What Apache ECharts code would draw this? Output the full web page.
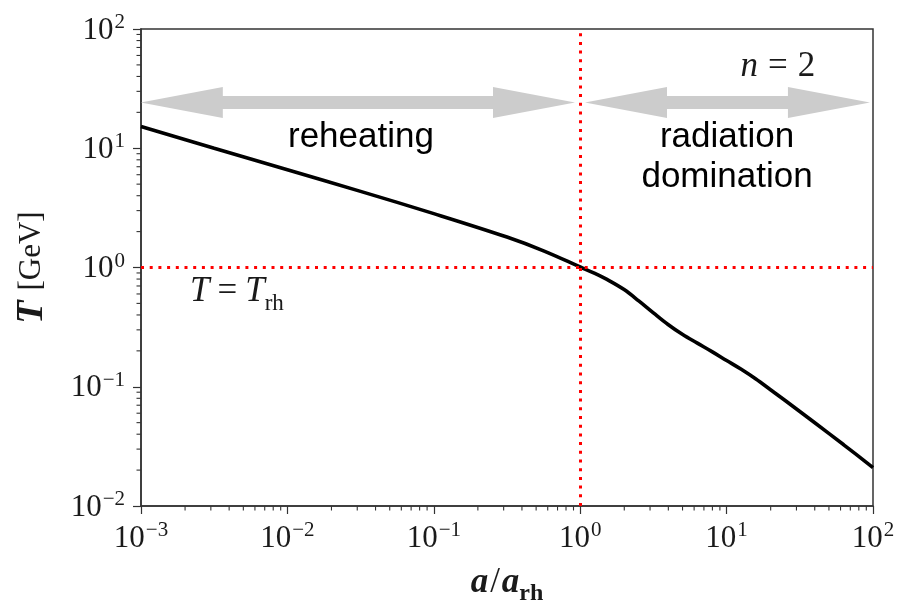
<!DOCTYPE html>
<html>
<head>
<meta charset="utf-8">
<script src="https://cdn.jsdelivr.net/npm/echarts/dist/echarts.min.js"></script>
<style>html,body{margin:0;padding:0;background:#fff;}#chart{width:901px;height:602px;}</style>
</head>
<body>
<div id="chart"></div>
<script>
// ---- data ----
const aRatio = [0.001, 0.00316, 0.01, 0.0316, 0.1, 0.316, 0.562, 1.0, 1.259, 1.585, 1.995, 2.512, 3.162, 3.981, 5.012, 6.31, 7.943, 10.0, 12.59, 15.85, 19.95, 25.12, 39.81, 63.1, 100.0];
const temperature = [15.2, 10.0, 6.61, 4.35, 2.83, 1.80, 1.38, 1.01, 0.891, 0.773, 0.653, 0.525, 0.417, 0.333, 0.274, 0.232, 0.197, 0.166, 0.140, 0.116, 0.0944, 0.0767, 0.0501, 0.0326, 0.0210];
const xDecades = [-3, -2, -1, 0, 1, 2];
const yDecades = [-2, -1, 0, 1, 2];
const aReheat = 1;
const tReheat = 1;

// minor tick positions (2..9 per decade)
const xMinor = [];
xDecades.slice(0, -1).forEach(e => { for (let m = 2; m <= 9; m++) xMinor.push([m * Math.pow(10, e), Math.pow(10, yDecades[0])]); });
const yMinor = [];
yDecades.slice(0, -1).forEach(e => { for (let m = 2; m <= 9; m++) yMinor.push([Math.pow(10, xDecades[0]), m * Math.pow(10, e)]); });

const serif = 'Liberation Serif';
const sans = 'Liberation Sans';
const ink = '#1a1a1a';
const arrowGray = '#cccccc';

function powLabel(v) {
  const e = Math.round(Math.log10(v));
  return '{b|10}{s|' + (e < 0 ? '\u2212' + (-e) : e) + '}';
}
const powRich = {
  b: { fontFamily: serif, fontSize: 31, color: ink, verticalAlign: 'bottom' },
  s: { fontFamily: serif, fontSize: 21, color: ink, verticalAlign: 'bottom', padding: [0, 0, 13, 1] }
};

const data = aRatio.map((a, i) => [a, temperature[i]]);

const chart = echarts.init(document.getElementById('chart'));
const arrowY = 24.2;
chart.setOption({
  animation: false,
  backgroundColor: '#fff',
  grid: { left: 141, right: 28, top: 29, bottom: 96, show: true, borderColor: '#333', borderWidth: 1.5, backgroundColor: 'transparent', containLabel: false, outerBoundsMode: 'none' },
  xAxis: {
    type: 'log', logBase: 10, min: 0.001, max: 100, splitNumber: 5,
    axisLine: { lineStyle: { color: '#333', width: 1.5 } },
    axisTick: { show: true, length: 8, lineStyle: { color: '#333', width: 1.2 } },
    splitLine: { show: false },
    axisLabel: { margin: 14, formatter: powLabel, rich: powRich },
    name: '{a|a}{sl|/}{a|a}{r|rh}',
    nameLocation: 'middle', nameGap: 59,
    nameTextStyle: {
      rich: {
        a: { fontFamily: serif, fontStyle: 'italic', fontWeight: 'bold', fontSize: 35, color: ink, verticalAlign: 'bottom' },
        sl: { fontFamily: serif, fontSize: 35, color: ink, verticalAlign: 'bottom', padding: [0, 2, 0, 2] },
        r: { fontFamily: serif, fontWeight: 'bold', fontSize: 24, color: ink, verticalAlign: 'bottom', padding: [0, 0, -6, 0] }
      }
    }
  },
  yAxis: {
    type: 'log', logBase: 10, min: 0.01, max: 100, splitNumber: 4,
    axisLine: { lineStyle: { color: '#333', width: 1.5 } },
    axisTick: { show: true, length: 8, lineStyle: { color: '#333', width: 1.2 } },
    splitLine: { show: false },
    axisLabel: { margin: 16, formatter: powLabel, rich: powRich },
    name: '{t|T}{g|[GeV]}',
    nameLocation: 'middle', nameGap: 90,
    nameTextStyle: {
      rich: {
        t: { fontFamily: serif, fontStyle: 'italic', fontWeight: 'bold', fontSize: 38, color: ink, padding: [0, 10, 0, 0] },
        g: { fontFamily: serif, fontSize: 31, color: ink }
      }
    }
  },
  series: [
    {
      type: 'custom', name: 'xminor', clip: false, silent: true, z: 5,
      data: xMinor,
      renderItem: (params, api) => {
        const p = api.coord([api.value(0), api.value(1)]);
        return { type: 'line', shape: { x1: p[0], y1: p[1], x2: p[0], y2: p[1] + 4.5 }, style: { stroke: '#333', lineWidth: 1.1 } };
      }
    },
    {
      type: 'custom', name: 'yminor', clip: false, silent: true, z: 5,
      data: yMinor,
      renderItem: (params, api) => {
        const p = api.coord([api.value(0), api.value(1)]);
        return { type: 'line', shape: { x1: p[0] - 4.5, y1: p[1], x2: p[0], y2: p[1] }, style: { stroke: '#333', lineWidth: 1.1 } };
      }
    },
    {
      type: 'line', name: 'guides', data: [], z: 2, silent: true,
      markLine: {
        silent: true, symbol: ['none', 'none'], animation: false,
        label: { show: false },
        lineStyle: { color: '#ff0000', width: 3, type: [3, 5.7], cap: 'butt' },
        data: [{ xAxis: aReheat }, { yAxis: tReheat }]
      }
    },
    {
      type: 'line', name: 'arrows', data: [], z: 3, silent: true,
      markLine: {
        silent: true, symbol: ['none', 'none'], animation: false,
        label: { show: false },
        lineStyle: { color: arrowGray, width: 13, type: 'solid', cap: 'butt' },
        data: [
          [{ coord: [0.00190, arrowY] }, { coord: [0.4836, arrowY] }],
          [{ coord: [2.055, arrowY] }, { coord: [50.0, arrowY] }]
        ]
      },
      markPoint: {
        silent: true, animation: false,
        symbol: 'triangle', symbolSize: [31, 82],
        itemStyle: { color: arrowGray },
        label: { show: false },
        data: [
          { coord: [0.00190, arrowY], symbolRotate: 90 },
          { coord: [0.4836, arrowY], symbolRotate: -90 },
          { coord: [2.055, arrowY], symbolRotate: 90 },
          { coord: [50.0, arrowY], symbolRotate: -90 }
        ]
      }
    },
    {
      type: 'line', name: 'texts', data: [], z: 6, silent: true,
      markPoint: {
        silent: true, animation: false,
        symbol: 'circle', symbolSize: 1,
        itemStyle: { color: 'rgba(0,0,0,0)' },
        data: [
          { coord: [0.0318, 12.4], label: { show: true, position: 'inside', formatter: 'reheating', fontFamily: sans, fontSize: 35, color: '#000' } },
          { coord: [10.07, 8.47], label: { show: true, position: 'inside', formatter: 'radiation\ndomination', fontFamily: sans, fontSize: 35, lineHeight: 40, color: '#000' } },
          { coord: [22.4, 48.1], label: { show: true, position: 'inside', formatter: '{i|n}{u|=}{v|2}', rich: {
            i: { fontFamily: serif, fontStyle: 'italic', fontSize: 35, color: ink },
            u: { fontFamily: serif, fontSize: 35, color: ink, padding: [0, 10, 0, 10] },
            v: { fontFamily: serif, fontSize: 35, color: ink } } } },
          { coord: [0.00452, 0.625], label: { show: true, position: 'inside', formatter: '{i|T}{u|=}{i|T}{r|rh}', rich: {
            i: { fontFamily: serif, fontStyle: 'italic', fontSize: 35, color: ink, verticalAlign: 'bottom' },
            u: { fontFamily: serif, fontSize: 35, color: ink, verticalAlign: 'bottom', padding: [0, 8, 0, 8] },
            r: { fontFamily: serif, fontSize: 23, color: ink, verticalAlign: 'bottom', padding: [0, 0, -6, 0] } } } }
        ]
      }
    },
    {
      type: 'line', name: 'T', data: data, z: 4, showSymbol: false, smooth: 0.35, silent: true,
      lineStyle: { color: '#000', width: 3.6 }
    }
  ]
});
</script>
</body>
</html>
